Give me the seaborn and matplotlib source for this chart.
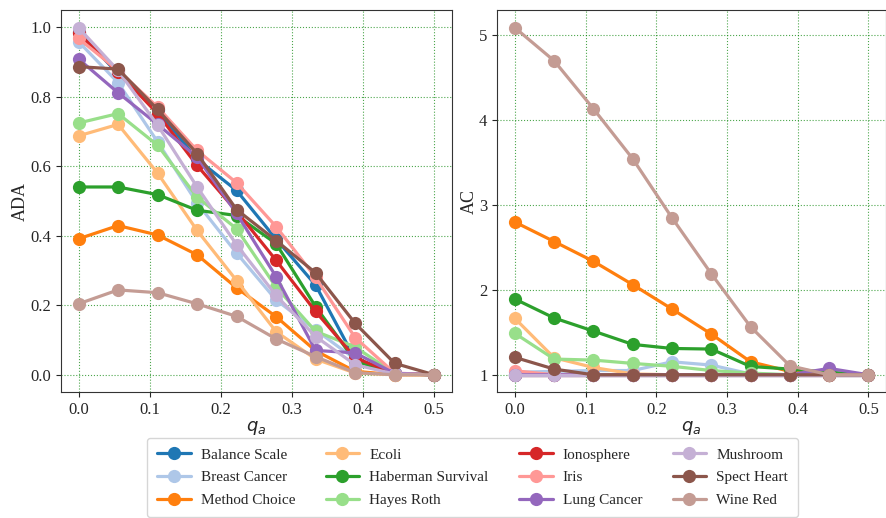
import numpy as np
import pandas as pd
import matplotlib
matplotlib.use("Agg")
import matplotlib.pyplot as plt
from matplotlib.lines import Line2D
import seaborn as sns

# q_a grid (0 .. 0.5 in steps of 1/18)
q_values = [0.0, 0.0556, 0.1111, 0.1667, 0.2222, 0.2778, 0.3333, 0.3889, 0.4444, 0.5]

datasets = ["Balance Scale", "Breast Cancer", "Method Choice", "Ecoli",
            "Haberman Survival", "Hayes Roth", "Ionosphere", "Iris",
            "Lung Cancer", "Mushroom", "Spect Heart", "Wine Red"]

ada_balance_scale = [0.985, 0.866, 0.76, 0.62, 0.53, 0.39, 0.258, 0.045, 0.004, 0.0]
ada_breast_cancer = [0.958, 0.84, 0.67, 0.494, 0.35, 0.215, 0.129, 0.045, 0.003, 0.0]
ada_method_choice = [0.391, 0.429, 0.402, 0.345, 0.25, 0.167, 0.069, 0.01, 0.0, 0.0]
ada_ecoli = [0.687, 0.72, 0.58, 0.415, 0.271, 0.124, 0.045, 0.005, 0.0, 0.0]
ada_haberman = [0.54, 0.54, 0.518, 0.473, 0.458, 0.377, 0.196, 0.04, 0.003, 0.0]
ada_hayes_roth = [0.724, 0.751, 0.66, 0.511, 0.42, 0.252, 0.125, 0.08, 0.004, 0.0]
ada_ionosphere = [0.982, 0.87, 0.751, 0.602, 0.47, 0.329, 0.182, 0.049, 0.003, 0.0]
ada_iris = [0.967, 0.875, 0.77, 0.645, 0.552, 0.426, 0.28, 0.107, 0.005, 0.0]
ada_lung_cancer = [0.908, 0.811, 0.72, 0.626, 0.464, 0.282, 0.07, 0.063, 0.004, 0.0]
ada_mushroom = [0.998, 0.875, 0.718, 0.54, 0.374, 0.228, 0.11, 0.029, 0.002, 0.0]
ada_spect_heart = [0.886, 0.879, 0.763, 0.636, 0.475, 0.386, 0.293, 0.148, 0.033, 0.0]
ada_wine_red = [0.204, 0.244, 0.236, 0.204, 0.168, 0.103, 0.052, 0.006, 0.0, 0.0]

ac_balance_scale = [1.0, 1.0, 1.0, 1.0, 1.0, 1.0, 1.0, 1.0, 1.0, 1.0]
ac_breast_cancer = [1.03, 1.04, 1.05, 1.05, 1.153, 1.114, 1.01, 1.0, 1.0, 1.0]
ac_method_choice = [2.80, 2.57, 2.337, 2.062, 1.775, 1.48, 1.153, 1.04, 1.0, 1.0]
ac_ecoli = [1.665, 1.20, 1.086, 1.01, 1.0, 1.0, 1.0, 1.0, 1.0, 1.0]
ac_haberman = [1.893, 1.669, 1.515, 1.358, 1.31, 1.303, 1.098, 1.067, 1.03, 1.0]
ac_hayes_roth = [1.488, 1.185, 1.173, 1.134, 1.10, 1.05, 1.02, 1.0, 1.0, 1.0]
ac_ionosphere = [1.0, 1.0, 1.0, 1.0, 1.0, 1.0, 1.0, 1.0, 1.0, 1.0]
ac_iris = [1.047, 1.0, 1.0, 1.0, 1.0, 1.0, 1.0, 1.0, 1.0, 1.0]
ac_lung_cancer = [1.0, 1.0, 1.0, 1.0, 1.0, 1.0, 1.0, 1.0, 1.075, 1.0]
ac_mushroom = [1.0, 1.0, 1.0, 1.0, 1.0, 1.0, 1.0, 1.0, 1.0, 1.0]
ac_spect_heart = [1.205, 1.067, 1.0, 1.0, 1.0, 1.0, 1.0, 1.0, 1.0, 1.0]
ac_wine_red = [5.09, 4.70, 4.135, 3.545, 2.85, 2.19, 1.566, 1.106, 1.0, 1.0]

ada_series = [ada_balance_scale, ada_breast_cancer, ada_method_choice, ada_ecoli,
              ada_haberman, ada_hayes_roth, ada_ionosphere, ada_iris,
              ada_lung_cancer, ada_mushroom, ada_spect_heart, ada_wine_red]
ac_series = [ac_balance_scale, ac_breast_cancer, ac_method_choice, ac_ecoli,
             ac_haberman, ac_hayes_roth, ac_ionosphere, ac_iris,
             ac_lung_cancer, ac_mushroom, ac_spect_heart, ac_wine_red]

rows = []
for name, ada, ac in zip(datasets, ada_series, ac_series):
    for q, a, c in zip(q_values, ada, ac):
        rows.append({"dataset": name, "q": q, "ADA": a, "AC": c})
df = pd.DataFrame(rows)

sns.set_style("ticks")
plt.rcParams["font.family"] = ["Liberation Serif", "DejaVu Serif"]
plt.rcParams["mathtext.fontset"] = "dejavusans"

palette = dict(zip(datasets, sns.color_palette("tab20", 12)))

fig = plt.figure(figsize=(8.87, 5.18), dpi=100)
ax1 = fig.add_axes([0.0685, 0.243, 0.441, 0.737])
ax2 = fig.add_axes([0.5605, 0.243, 0.4385, 0.737])

line_kw = dict(marker="o", markersize=9.5, linewidth=2.3, markeredgewidth=0)

for ax, col in [(ax1, "ADA"), (ax2, "AC")]:
    sns.lineplot(data=df, x="q", y=col, hue="dataset", hue_order=datasets,
                 palette=palette, ax=ax, legend=False, **line_kw)
    ax.grid(True, color="green", linestyle=":", linewidth=0.8, alpha=0.7)
    ax.set_axisbelow(True)
    ax.set_xlabel(r"$q_a$", fontsize=13, labelpad=1)
    ax.set_ylabel(col, fontsize=13, labelpad=1)
    ax.set_xticks([0.0, 0.1, 0.2, 0.3, 0.4, 0.5])
    ax.tick_params(labelsize=12)
    for s in ax.spines.values():
        s.set_color("#333333")

ax1.set_yticks([0.0, 0.2, 0.4, 0.6, 0.8, 1.0])
ax2.set_yticks([1, 2, 3, 4, 5])

handles = [Line2D([], [], color=palette[n], **line_kw) for n in datasets]
fig.legend(handles, datasets, loc="center", bbox_to_anchor=(0.5327, 0.078),
           ncol=4, fontsize=11, handlelength=2.2, handletextpad=0.65,
           columnspacing=2.0, labelspacing=0.6, borderpad=0.65, frameon=True)

fig.savefig("out.png", dpi=100)
